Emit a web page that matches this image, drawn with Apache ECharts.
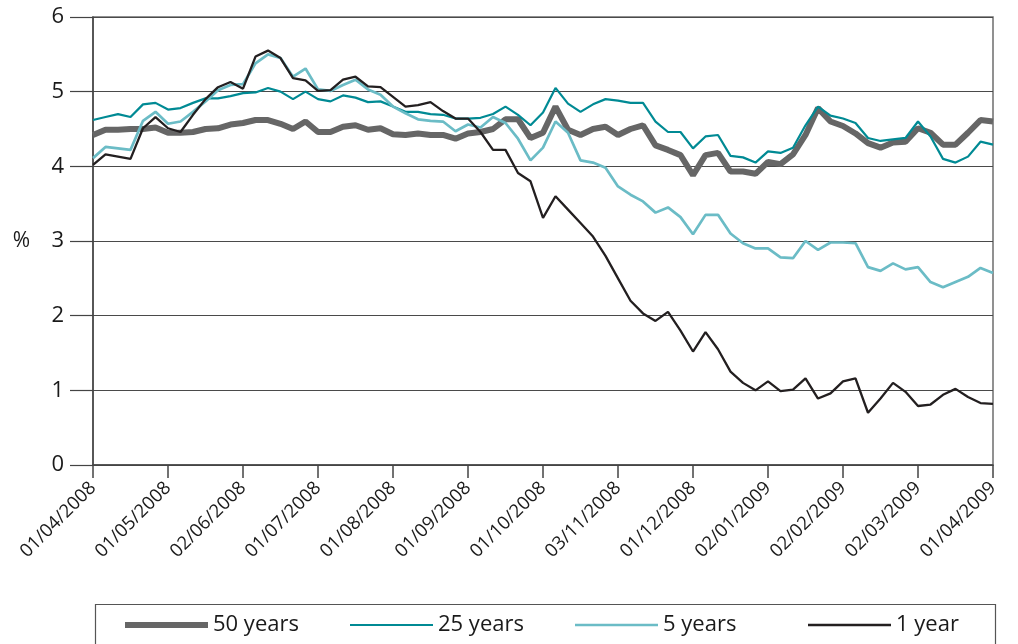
<!DOCTYPE html>
<html>
<head>
<meta charset="utf-8">
<script src="https://cdn.jsdelivr.net/npm/echarts@6/dist/echarts.min.js"></script>
<style>
html,body{margin:0;padding:0;background:#fff;}
#chart{width:1018px;height:644px;}
</style>
</head>
<body>
<div id="chart"></div>
<script>
// Tick labels (one per month, first business day)
var tickLabels = ['01/04/2008','01/05/2008','02/06/2008','01/07/2008','01/08/2008','01/09/2008','01/10/2008','03/11/2008','01/12/2008','02/01/2009','02/02/2009','02/03/2009','01/04/2009'];
// Samples per month along the x axis
var samplesPerMonth = 6;
var seriesNames = ['50 years','25 years','5 years','1 year'];

var fiftyYears = [
4.42,4.49,4.49,4.50,4.50,4.52,4.45,4.45,4.46,4.50,
4.51,4.56,4.58,4.62,4.62,4.57,4.50,4.60,4.46,4.46,
4.53,4.55,4.49,4.51,4.43,4.42,4.44,4.42,4.42,4.37,
4.44,4.46,4.50,4.63,4.63,4.38,4.45,4.80,4.49,4.42,
4.50,4.53,4.42,4.50,4.55,4.28,4.22,4.15,3.88,4.15,
4.18,3.93,3.93,3.90,4.06,4.03,4.16,4.42,4.78,4.60,
4.54,4.44,4.31,4.25,4.32,4.33,4.51,4.45,4.29,4.29,
4.45,4.62,4.60];
var twentyFiveYears = [
4.62,4.66,4.70,4.66,4.83,4.85,4.76,4.78,4.85,4.91,
4.91,4.94,4.98,4.99,5.05,5.00,4.90,5.00,4.90,4.87,
4.95,4.92,4.86,4.87,4.80,4.73,4.73,4.70,4.69,4.64,
4.64,4.65,4.70,4.80,4.69,4.55,4.72,5.05,4.84,4.73,
4.83,4.90,4.88,4.85,4.85,4.60,4.46,4.46,4.24,4.40,
4.42,4.14,4.12,4.05,4.20,4.18,4.25,4.55,4.80,4.68,
4.64,4.58,4.38,4.34,4.36,4.38,4.60,4.40,4.10,4.05,
4.13,4.33,4.29];
var fiveYears = [
4.11,4.26,4.24,4.22,4.61,4.73,4.57,4.60,4.73,4.87,
5.02,5.09,5.10,5.38,5.50,5.45,5.20,5.31,5.03,5.01,
5.09,5.16,5.03,4.96,4.80,4.71,4.63,4.61,4.60,4.47,
4.56,4.52,4.66,4.58,4.37,4.08,4.25,4.60,4.45,4.08,
4.05,3.98,3.73,3.62,3.53,3.38,3.45,3.32,3.09,3.35,
3.35,3.10,2.97,2.90,2.90,2.78,2.77,3.00,2.88,2.98,
2.98,2.97,2.65,2.60,2.70,2.62,2.65,2.45,2.38,2.45,
2.52,2.64,2.57];
var oneYear = [
4.02,4.16,4.13,4.10,4.51,4.66,4.51,4.46,4.69,4.90,
5.06,5.13,5.04,5.47,5.55,5.45,5.18,5.15,5.01,5.02,
5.16,5.20,5.07,5.06,4.93,4.80,4.82,4.86,4.74,4.64,
4.64,4.46,4.22,4.22,3.91,3.80,3.31,3.60,3.42,3.24,
3.06,2.80,2.50,2.20,2.03,1.93,2.05,1.80,1.52,1.78,
1.55,1.25,1.10,1.00,1.12,0.99,1.01,1.16,0.89,0.96,
1.12,1.16,0.70,0.89,1.10,0.98,0.79,0.81,0.94,1.02,
0.91,0.83,0.82];

function pairs(arr){ return arr.map(function(v,i){ return [i, v]; }); }

var FONT = 'Open Sans';
var COLORS = ['#666666','#008a94','#6bbcc6','#231f20'];
var WIDTHS = [6, 2.2, 2.7, 2.3];
var LEGEND_LEFT = [120, 345, 570, 803];
var chart = echarts.init(document.getElementById('chart'), null, {renderer:'canvas'});
var maxX = (tickLabels.length - 1) * samplesPerMonth;
var values = [fiftyYears, twentyFiveYears, fiveYears, oneYear];

chart.setOption({
  backgroundColor:'#fff',
  animation:false,
  grid:{left:93, right:25, top:17, bottom:179, show:true, borderColor:'#6d6d6d', borderWidth:1.5, backgroundColor:'transparent'},
  xAxis:{
    type:'value', min:0, max:maxX, interval:samplesPerMonth,
    axisLine:{show:true, onZero:false, lineStyle:{color:'#444', width:1.5}},
    axisTick:{show:true, length:13, lineStyle:{color:'#444', width:1.5}},
    splitLine:{show:false},
    axisLabel:{
      rotate:45, margin:20, fontFamily:FONT, fontSize:18.5, color:'#1a1a1a',
      formatter:function(v){ return tickLabels[Math.round(v / samplesPerMonth)] || ''; },
      showMinLabel:true, showMaxLabel:true
    }
  },
  yAxis:{
    type:'value', min:0, max:6, interval:1,
    name:'%', nameLocation:'middle', nameRotate:0, nameGap:63,
    nameTextStyle:{fontFamily:FONT, fontSize:21, color:'#1a1a1a'},
    axisLine:{show:true, lineStyle:{color:'#444', width:1.5}},
    axisTick:{show:true, length:23, lineStyle:{color:'#444', width:1.2}},
    splitLine:{show:true, lineStyle:{color:'#4a4a4a', width:1}},
    axisLabel:{margin:29, fontFamily:FONT, fontSize:22, color:'#1a1a1a'}
  },
  legend:seriesNames.map(function(n, i){
    return {
      left:LEGEND_LEFT[i], top:609, orient:'horizontal',
      itemWidth:83, itemHeight:14, symbolKeepAspect:true, itemGap:10,
      textStyle:{fontFamily:FONT, fontSize:22, color:'#1a1a1a'},
      data:[{name:n, icon:'path://M0,0H83V' + WIDTHS[i] + 'H0Z'}]
    };
  }),
  graphic:[{
    type:'rect', left:93, top:602, shape:{width:900, height:40},
    style:{fill:'none', stroke:'#555', lineWidth:1.2}, silent:true, z:-1
  }],
  series:seriesNames.map(function(n, i){
    return {name:n, type:'line', data:pairs(values[i]), symbol:'none',
      lineStyle:{color:COLORS[i], width:WIDTHS[i]}, itemStyle:{color:COLORS[i]}, z:i+1};
  })
});
</script>
</body>
</html>
